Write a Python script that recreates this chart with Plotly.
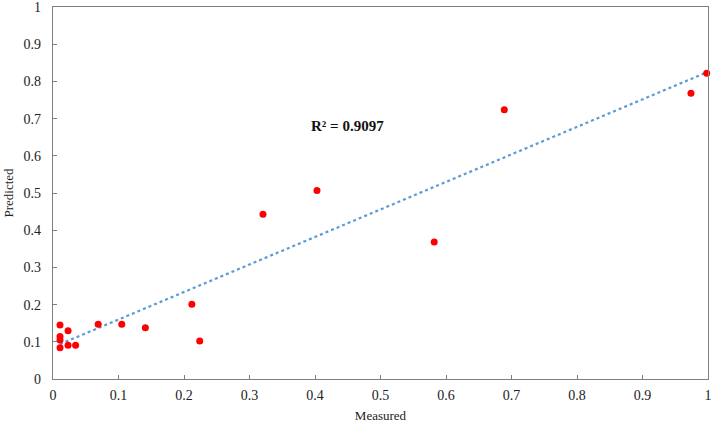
import numpy as np
import plotly.graph_objects as go

measured = [0.0107, 0.0107, 0.0107, 0.0107, 0.023, 0.023, 0.0345, 0.069, 0.105, 0.141,
            0.212, 0.224, 0.3206, 0.403, 0.582, 0.689, 0.974, 0.998]
predicted = [0.145, 0.114, 0.105, 0.084, 0.130, 0.091, 0.091, 0.147, 0.147, 0.138,
             0.201, 0.102, 0.443, 0.507, 0.368, 0.724, 0.768, 0.822]
r2_label = "R² = 0.9097"
ticks = [0, 0.1, 0.2, 0.3, 0.4, 0.5, 0.6, 0.7, 0.8, 0.9, 1]
tick_text = ["0", "0.1", "0.2", "0.3", "0.4", "0.5", "0.6", "0.7", "0.8", "0.9", "1"]

x = np.array(measured)
y = np.array(predicted)
slope, intercept = np.polyfit(x, y, 1)
fx = np.array([x.min(), 1.0])
fy = slope * fx + intercept

fig = go.Figure()
fig.add_trace(go.Scatter(x=fx, y=fy, mode="lines",
                         line=dict(color="#5B9BD5", width=2.2, dash="dot"),
                         hoverinfo="skip", showlegend=False))
fig.add_trace(go.Scatter(x=measured, y=predicted, mode="markers",
                         marker=dict(color="#FF0000", size=7),
                         cliponaxis=False, showlegend=False))

SERIF = "Liberation Serif, Times New Roman, serif"
axis_common = dict(
    range=[0, 1], tickvals=ticks, ticktext=tick_text,
    showgrid=False, zeroline=False, automargin=False,
    showline=True, linecolor="#7f7f7f", linewidth=1.3, mirror=True,
    ticks="inside", ticklen=4, tickcolor="#7f7f7f",
    ticklabeloverflow="allow",
    tickfont=dict(family=SERIF, size=14, color="#222"),
    title_font=dict(family=SERIF, size=13, color="#222"),
)
fig.update_xaxes(title_text="Measured", title_standoff=8, ticklabelstandoff=3, **axis_common)
fig.update_yaxes(title_text="Predicted", title_standoff=6, ticklabelstandoff=8, **axis_common)

fig.add_annotation(x=0.45, y=0.68, xref="x", yref="y", text="<b>" + r2_label + "</b>",
                   showarrow=False,
                   font=dict(family=SERIF, size=15, color="#111"))

fig.update_layout(
    width=712, height=425,
    margin=dict(l=53, r=4, t=7, b=46),
    plot_bgcolor="white", paper_bgcolor="white",
)
fig.write_html("out.html", config={"displayModeBar": False},
               post_script="document.body.style.margin='0';")
